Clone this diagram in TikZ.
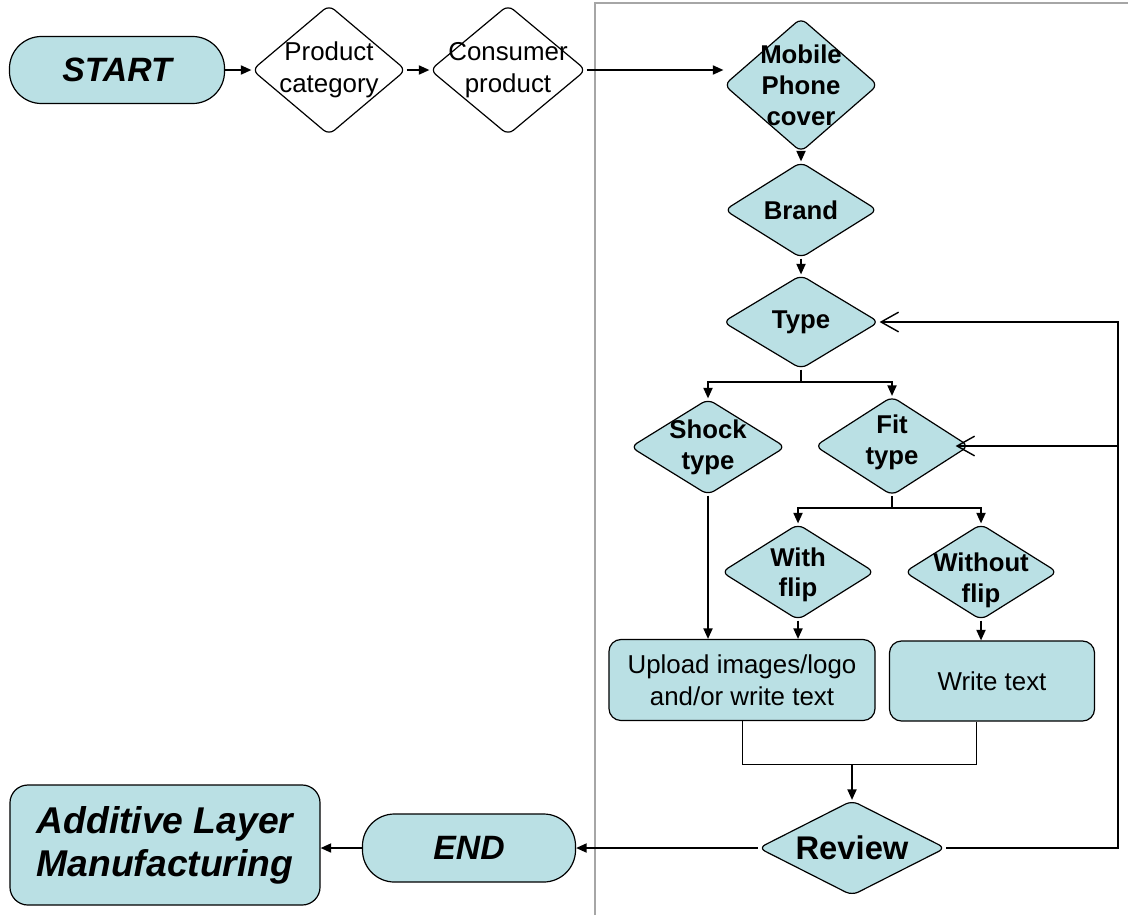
\documentclass[tikz,border=0pt]{standalone}
\usepackage{fontspec}
\setmainfont{Liberation Sans}
\usetikzlibrary{shapes.geometric, arrows.meta}
\definecolor{capfill}{RGB}{186,224,228}
\newcommand{\stdfont}{\fontsize{18.4}{22.6}\selectfont}
\newcommand{\boldfont}{\fontsize{18.3}{22}\selectfont\bfseries}
\newcommand{\termfont}{\fontsize{24}{28}\selectfont\bfseries\itshape}
\newcommand{\almfont}{\fontsize{26.5}{30.6}\selectfont\bfseries\itshape}
\tikzset{
  dec/.style={diamond, draw, line width=0.85pt, fill=capfill, rounded corners=5pt, inner sep=0pt},
  dectext/.style={font=\boldfont, align=center},
  plaintext/.style={font=\stdfont, align=center},
  pill/.style={rectangle, draw, line width=0.85pt, fill=capfill, rounded corners=0.8cm, font=\termfont},
  task/.style={rectangle, draw, line width=0.85pt, fill=capfill, rounded corners=0.3cm, font=\stdfont, align=center},
  arr/.style={line width=1.1pt, -{Triangle[length=7.5pt, width=6.5pt]}},
  back/.style={line width=1pt, -{Straight Barb[length=12.5pt, width=14pt, line width=1pt]}},
  merge/.style={line width=0.6pt}
}
\begin{document}
\begin{tikzpicture}[x=0.025cm, y=-0.025cm]
  \useasboundingbox (0,0) rectangle (1128,915);
  % Frame
  \draw[gray!70, line width=0.8pt] (595,915) -- (595,3) -- (1128,3);
  % Nodes
  \node (start) [pill, minimum width=5.375cm, minimum height=1.675cm] at (117,70) {START};
  \node (prodcat) [dec, fill=white, minimum width=3.85cm, minimum height=3.25cm, label={[plaintext]center:{Product\\category}}] at (329,70) {};
  \node (consumer) [dec, fill=white, minimum width=3.9cm, minimum height=3.25cm, label={[plaintext]center:{Consumer\\product}}] at (508,70) {};
  \node (mobile) [dec, minimum width=3.85cm, minimum height=3.35cm, label={[dectext]center:{Mobile\\Phone\\cover}}] at (801,85) {};
  \node (brand) [dec, minimum width=3.825cm, minimum height=2.4cm, label={[dectext]center:Brand}] at (801,210) {};
  \node (type) [dec, minimum width=3.9cm, minimum height=2.35cm, label={[dectext]center:Type}] at (801,322) {};
  \node (shock) [dec, minimum width=3.875cm, minimum height=2.4cm, label={[dectext]center:{Shock\\type}}] at (708,447) {};
  \node (fit) [dec, minimum width=3.85cm, minimum height=2.475cm, label={[dectext, yshift=0.1cm]center:{Fit\\type}}] at (892,446) {};
  \node (withflip) [dec, minimum width=3.825cm, minimum height=2.4cm, label={[dectext, yshift=-0.07cm]center:{With\\flip}}] at (798,572) {};
  \node (noflip) [dec, minimum width=3.825cm, minimum height=2.4cm, label={[dectext, yshift=-0.2cm]center:{Without\\flip}}] at (981,572) {};
  \node (upload) [task, minimum width=6.65cm, minimum height=2.025cm] at (742,680) {Upload images/logo\\and/or write text};
  \node (write) [task, minimum width=5.125cm, minimum height=2cm] at (992,681) {Write text};
  \node (review) [dec, minimum width=4.675cm, minimum height=2.375cm, label={[dectext, font=\fontsize{23.3}{27}\selectfont\bfseries]center:Review}] at (852,848) {};
  \node (end) [pill, minimum width=5.325cm, minimum height=1.7cm] at (469,848) {END};
  \node (alm) [task, rounded corners=0.45cm, font=\almfont, minimum width=7.75cm, minimum height=3cm] at (165,845) {Additive Layer\\Manufacturing};
  % Joints
  \coordinate (t1) at (801,382);
  \coordinate (f1) at (892,508);
  \coordinate (m1) at (852,764);
  \coordinate (r1) at (1118,848);
  % Arrows
  \draw[arr] (start) -- (prodcat);
  \draw[arr] (prodcat) -- (consumer);
  \draw[arr] (consumer.east) -- (consumer.east -| mobile.west);
  \draw[arr] (mobile.south) -- (brand.north);
  \draw[arr] (brand.south) -- (type.north);
  \draw[line width=1.1pt] (type.south) -- (t1);
  \draw[arr] (t1) -| (shock.north);
  \draw[arr] (t1) -| (fit.north);
  \draw[line width=1.1pt] (fit.south) -- (f1);
  \draw[arr] (f1) -| (withflip.north);
  \draw[arr] (f1) -| (noflip.north);
  \draw[arr] (shock.south) -- (shock.south |- upload.north);
  \draw[arr] (withflip.south) -- (withflip.south |- upload.north);
  \draw[arr] (noflip.south) -- (noflip.south |- write.north);
  \draw[merge] (upload.south) |- (m1) -| ([xshift=-0.39cm]write.south);
  \draw[arr] (m1) -- (review.north);
  \draw[arr] (review.west) -- (end.east);
  \draw[arr] (end.west) -- (end.west -| alm.east);
  % Loop back
  \draw[back] (review.east) -- (r1) |- (type.east);
  \draw[back] (r1 |- fit.east) -- ([xshift=-0.35cm]fit.east);
\end{tikzpicture}
\end{document}
